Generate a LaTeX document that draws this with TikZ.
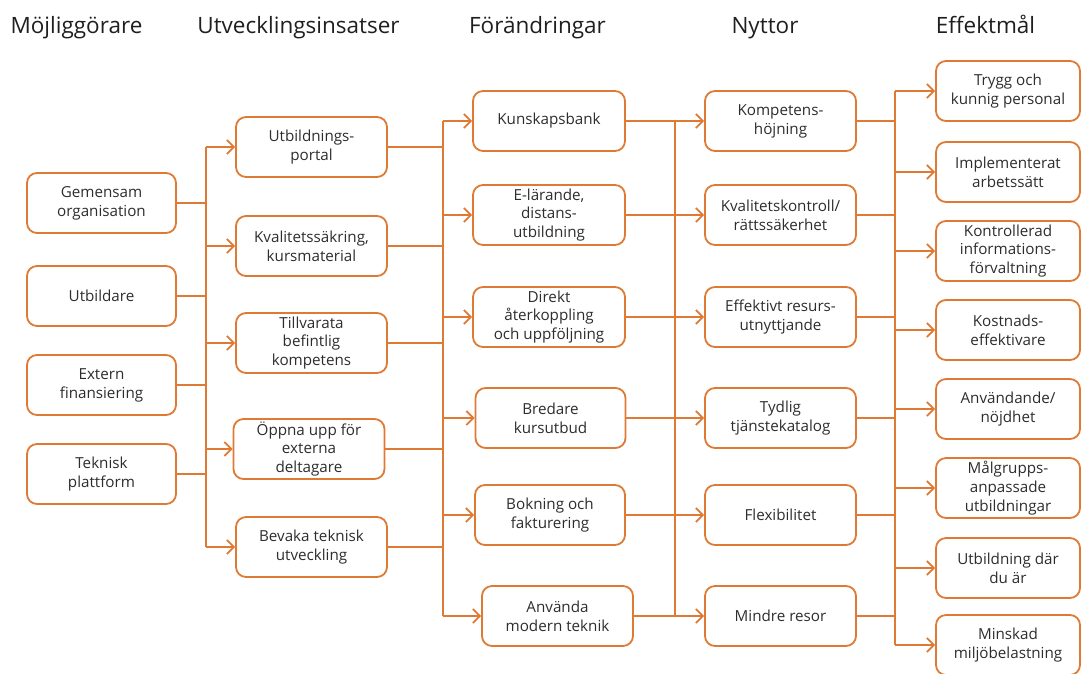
\documentclass[tikz,border=0pt]{standalone}
\usepackage{fontspec}
\setmainfont{Open Sans}
\usetikzlibrary{arrows.meta}
\definecolor{org}{RGB}{222,122,52}
\definecolor{txt}{RGB}{45,45,45}
\begin{document}
\begin{tikzpicture}[x=1pt,y=-1pt,
 box/.style={draw=org, line width=1.8pt, rounded corners=10pt, minimum height=60pt, align=center, font=\fontsize{15.2}{18.8}\selectfont, text=txt, inner sep=1pt},
 ln/.style={draw=org, line width=1.8pt},
 arr/.style={ln, -{Straight Barb[length=7pt,width=14pt,line width=1.8pt]}},
 ttl/.style={font=\fontsize{22.5}{26}\selectfont, text=black!88, anchor=base}]
\useasboundingbox (0,0) rectangle (1083,673);
% titles
\node[ttl] (t1) at (76.5,33) {Möjliggörare};
\node[ttl] (t2) at (298.5,33) {Utvecklingsinsatser};
\node[ttl] (t3) at (537.5,33) {Förändringar};
\node[ttl] (t4) at (765,33) {Nyttor};
\node[ttl] (t5) at (985.5,33) {Effektmål};
% column 1
\node[box, minimum width=149pt] (a1) at (101.5,203) {Gemensam\\organisation};
\node[box, minimum width=149pt] (a2) at (101.5,296) {Utbildare};
\node[box, minimum width=149pt] (a3) at (101.5,385) {Extern\\finansiering};
\node[box, minimum width=149pt] (a4) at (101.5,474) {Teknisk\\plattform};
% column 2
\node[box, minimum width=151pt] (b1) at (311.5,147) {Utbildnings-\\portal};
\node[box, minimum width=151pt] (b2) at (311.5,246) {Kvalitetssäkring,\\kursmaterial};
\node[box, minimum width=151pt] (b3) at (311.5,343) {Tillvarata\\befintlig\\kompetens};
\node[box, minimum width=151pt] (b4) at (309,449) {Öppna upp för\\externa\\deltagare};
\node[box, minimum width=151pt] (b5) at (311.5,547) {Bevaka teknisk\\utveckling};
% column 3
\node[box, minimum width=152pt] (c1) at (549,121) {Kunskapsbank};
\node[box, minimum width=152pt] (c2) at (549,215) {E-lärande,\\distans-\\utbildning};
\node[box, minimum width=152pt] (c3) at (549,317) {Direkt\\återkoppling\\och uppföljning};
\node[box, minimum width=150pt] (c4) at (550.5,418) {Bredare\\kursutbud};
\node[box, minimum width=150pt] (c5) at (550,515) {Bokning och\\fakturering};
\node[box, minimum width=151pt] (c6) at (557.5,616) {Använda\\modern teknik};
% column 4
\node[box, minimum width=151pt] (d1) at (780.5,121) {Kompetens-\\höjning};
\node[box, minimum width=151pt] (d2) at (780.5,215) {Kvalitetskontroll/\\rättssäkerhet};
\node[box, minimum width=151pt] (d3) at (780.5,317) {Effektivt resurs-\\utnyttjande};
\node[box, minimum width=151pt] (d4) at (780.5,418) {Tydlig\\tjänstekatalog};
\node[box, minimum width=151pt] (d5) at (780.5,515) {Flexibilitet};
\node[box, minimum width=151pt] (d6) at (780.5,616) {Mindre resor};
% column 5
\node[box, minimum width=144pt] (e1) at (1008,91) {Trygg och\\kunnig personal};
\node[box, minimum width=144pt] (e2) at (1008,172) {Implementerat\\arbetssätt};
\node[box, minimum width=144pt] (e3) at (1008,251) {Kontrollerad\\informations-\\förvaltning};
\node[box, minimum width=144pt] (e4) at (1008,330) {Kostnads-\\effektivare};
\node[box, minimum width=144pt] (e5) at (1008,409) {Användande/\\nöjdhet};
\node[box, minimum width=144pt] (e6) at (1008,488) {Målgrupps-\\anpassade\\utbildningar};
\node[box, minimum width=144pt] (e7) at (1008,568) {Utbildning där\\du är};
\node[box, minimum width=144pt] (e8) at (1008,645) {Minskad\\miljöbelastning};
% junction coordinates
\coordinate (v1t) at (206,147); \coordinate (v1b) at (206,547);
\coordinate (v2t) at (443,121); \coordinate (v2b) at (443,616);
\coordinate (v3t) at (675,121); \coordinate (v3b) at (675,616);
\coordinate (v4t) at (895,91);  \coordinate (v4b) at (895,645);
% verticals
\draw[ln] (v1t) -- (v1b);
\draw[ln] (v2t) -- (v2b);
\draw[ln] (v3t) -- (v3b);
\draw[ln] (v4t) -- (v4b);
% column 1 to v1
\foreach \n in {a1,a2,a3,a4} \draw[ln] (\n.east) -- (\n.east -| v1t);
% v1 to column 2
\foreach \n in {b1,b2,b3,b4,b5} \draw[arr] (\n.west -| v1t) -- (\n.west);
% column 2 to v2
\foreach \n in {b1,b2,b3,b4,b5} \draw[ln] (\n.east) -- (\n.east -| v2t);
% v2 to column 3
\foreach \n in {c1,c2,c3,c4,c5,c6} \draw[arr] (\n.west -| v2t) -- (\n.west);
% column 3 to column 4
\draw[arr] (c1.east) -- (d1.west);
\draw[arr] (c2.east) -- (d2.west);
\draw[arr] (c3.east) -- (d3.west);
\draw[arr] (c4.east) -- (d4.west);
\draw[arr] (c5.east) -- (d5.west);
\draw[arr] (c6.east) -- (d6.west);
% column 4 to v4
\foreach \n in {d1,d2,d3,d4,d5,d6} \draw[ln] (\n.east) -- (\n.east -| v4t);
% v4 to column 5
\foreach \n in {e1,e2,e3,e4,e5,e6,e7,e8} \draw[arr] (\n.west -| v4t) -- (\n.west);
\end{tikzpicture}
\end{document}
